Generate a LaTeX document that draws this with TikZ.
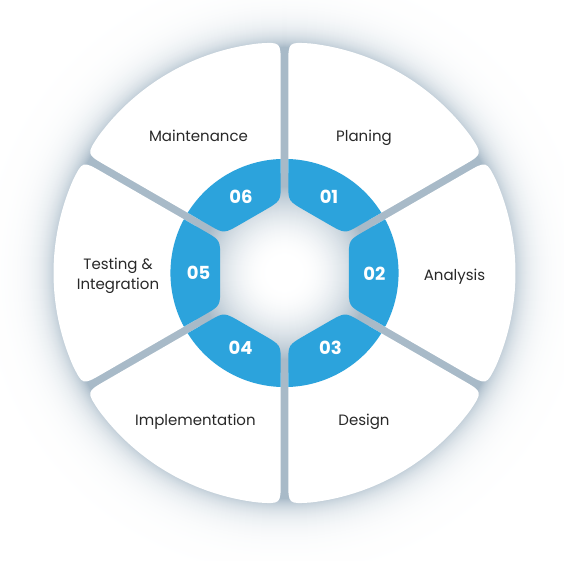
\documentclass[tikz,border=0pt]{standalone}
\usepackage{fontspec}
\setmainfont{Poppins}
\usetikzlibrary{calc}
\definecolor{gapg}{RGB}{168,186,200}
\definecolor{segblue}{RGB}{44,163,220}
\definecolor{labeltext}{RGB}{40,40,40}
\def\gh{3.8}
\newcommand\petalshape[2]{%
  \fill[petalfill] ($(C)+({#1}:100)+({#1+90}:\gh)$) -- ($(C)+({#1}:209)+({#1+90}:\gh)$)
    .. controls ($(C)+({#1}:231)+({#1+90}:\gh)$) .. ($(C)+({#1+6.5}:231)$)
    arc[start angle={#1+6.5}, end angle={#2-6.5}, radius=231]
    .. controls ($(C)+({#2}:231)+({#2-90}:\gh)$) .. ($(C)+({#2}:209)+({#2-90}:\gh)$)
    -- ($(C)+({#2}:100)+({#2-90}:\gh)$) -- cycle;
}
\newcommand\ringseg[2]{%
  \coordinate (qa) at ($(C)+({#1}:72)+({#1+90}:\gh)$);
  \coordinate (qb) at ($(C)+({#2}:72)+({#2-90}:\gh)$);
  \fill[segfill] ($(C)+({#1}:88)+({#1+90}:\gh)$) -- ($(C)+({#1}:114)+({#1+90}:\gh)$)
    arc[start angle={#1+1.9}, end angle={#2-1.9}, radius=114]
    -- ($(C)+({#2}:88)+({#2-90}:\gh)$)
    .. controls (qb) .. ($(qb)!20pt!(qa)$) -- ($(qa)!20pt!(qb)$)
    .. controls (qa) .. ($(C)+({#1}:88)+({#1+90}:\gh)$) -- cycle;
}
\begin{document}
\begin{tikzpicture}[x=1pt,y=1pt,
  lbl/.style={text=labeltext, font=\fontsize{15}{19.5}\selectfont, inner sep=0pt, align=center},
  num/.style={text=white, font=\fontsize{18}{20}\selectfont\bfseries, anchor=base, inner sep=0pt},
  petalfill/.style={fill=white},
  segfill/.style={fill=segblue}]
\useasboundingbox (0,0) rectangle (564,561);
\fill[white] (0,0) rectangle (564,561);
\clip (0,0) rectangle (564,561);
\coordinate (C) at (284.5,288);
% soft glow around the disc
\foreach \r in {300,299,...,224}{%
  \pgfmathsetmacro\p{min(100,100*exp(-(\r-226)/14))}%
  \fill[gapg!\p!white] (C) circle (\r);
}
% shaded centre hole
\foreach \r in {90,89,...,1}{%
  \pgfmathsetmacro\q{min(1,max(0,(\r-15)/72))}%
  \pgfmathsetmacro\p{100*\q*\q}%
  \fill[gapg!\p!white] (C) circle (\r);
}
\petalshape{30}{90}
\petalshape{-30}{30}
\petalshape{-90}{-30}
\petalshape{-150}{-90}
\petalshape{150}{210}
\petalshape{90}{150}
\ringseg{30}{90}
\ringseg{-30}{30}
\ringseg{-90}{-30}
\ringseg{-150}{-90}
\ringseg{150}{210}
\ringseg{90}{150}
\node[num] (n01) at (329,357) {01};
\node[num] (n02) at (374.5,280) {02};
\node[num] (n03) at (330.5,206) {03};
\node[num] (n04) at (240.5,206) {04};
\node[num] (n05) at (198.5,281) {05};
\node[num] (n06) at (241,357) {06};
\node[lbl, anchor=base] (planing) at (364,419.3) {Planing};
\node[lbl, anchor=base] (analysis) at (454.5,280.3) {Analysis};
\node[lbl, anchor=base] (design) at (364,135) {Design};
\node[lbl, anchor=base] (impl) at (195.4,135) {Implementation};
\node[lbl, anchor=base] (maint) at (198.5,419) {Maintenance};
\node[lbl] (testing) at (118,285) {Testing \&\\Integration};
\end{tikzpicture}
\end{document}
